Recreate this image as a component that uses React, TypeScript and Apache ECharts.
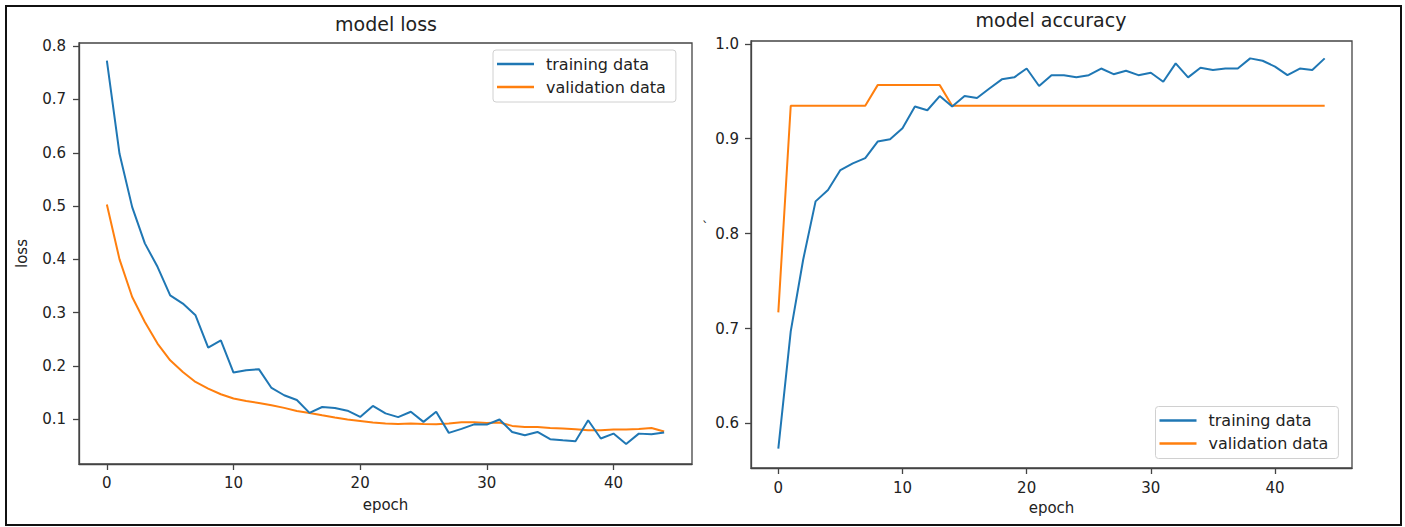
import React, { useEffect, useRef } from "react";
import * as echarts from "echarts";

const epochs: number[] = Array.from({ length: 45 }, (_, i) => i);

const lossTraining: number[] = [
  0.773, 0.598, 0.498, 0.43, 0.386, 0.3325, 0.317, 0.295, 0.2345, 0.248,
  0.1875, 0.192, 0.194, 0.1587, 0.145, 0.136, 0.112, 0.123, 0.121, 0.116,
  0.1044, 0.125, 0.111, 0.104, 0.114, 0.095, 0.114, 0.0744, 0.082, 0.0904,
  0.09, 0.0995, 0.0762, 0.07, 0.0762, 0.0625, 0.0606, 0.0588, 0.098, 0.0638,
  0.0731, 0.0537, 0.073, 0.072, 0.075,
];

const lossValidation: number[] = [
  0.503, 0.4, 0.3294, 0.2825, 0.2419, 0.2106, 0.1887, 0.17, 0.1576, 0.1469,
  0.1388, 0.1344, 0.1306, 0.1263, 0.1213, 0.1156, 0.1119, 0.1075, 0.1032, 0.0994,
  0.0969, 0.0938, 0.092, 0.0912, 0.092, 0.0912, 0.0906, 0.092, 0.0944, 0.0944,
  0.0931, 0.0938, 0.0875, 0.0856, 0.0856, 0.0837, 0.0825, 0.0813, 0.0794, 0.0794,
  0.0806, 0.0806, 0.0819, 0.0837, 0.077,
];

const accTraining: number[] = [
  0.5735, 0.697, 0.7725, 0.834, 0.846, 0.867, 0.874, 0.8795, 0.897, 0.8995,
  0.911, 0.934, 0.93, 0.945, 0.934, 0.945, 0.943, 0.953, 0.9626, 0.9647,
  0.974, 0.9556, 0.967, 0.967, 0.9647, 0.967, 0.974, 0.968, 0.9717, 0.967,
  0.9696, 0.96, 0.9794, 0.9647, 0.9749, 0.9724, 0.974, 0.974, 0.9847, 0.9822,
  0.976, 0.967, 0.974, 0.9724, 0.9847,
];

const accValidation: number[] = [
  0.717, 0.9348, 0.9348, 0.9348, 0.9348, 0.9348, 0.9348, 0.9348, 0.9565, 0.9565,
  0.9565, 0.9565, 0.9565, 0.9565, 0.9348, 0.9348, 0.9348, 0.9348, 0.9348, 0.9348,
  0.9348, 0.9348, 0.9348, 0.9348, 0.9348, 0.9348, 0.9348, 0.9348, 0.9348, 0.9348,
  0.9348, 0.9348, 0.9348, 0.9348, 0.9348, 0.9348, 0.9348, 0.9348, 0.9348, 0.9348,
  0.9348, 0.9348, 0.9348, 0.9348, 0.9348,
];

const xTicks: number[] = [0, 10, 20, 30, 40];
const lossTicks: number[] = [0.1, 0.2, 0.3, 0.4, 0.5, 0.6, 0.7, 0.8];
const accTicks: number[] = [0.6, 0.7, 0.8, 0.9, 1.0];

const titles: string[] = ["model loss", "model accuracy"];
const seriesNames: string[] = ["training data", "validation data"];
const xName = "epoch";
const lossName = "loss";

const BLUE = "#1f77b4";
const ORANGE = "#ff7f0e";
const TEXT = "#222";
const SPINE = "#444";
const FONT = "DejaVu Sans";

const pairs = (ys: number[]) => epochs.map((e, i) => [e, ys[i]]);

export default function App() {
  const ref = useRef<HTMLDivElement>(null);

  useEffect(() => {
    if (!ref.current) return;
    const chart = echarts.init(ref.current, undefined, { renderer: "svg" });

    const xAxisBase = (gridIndex: number, labelMargin: number, nameGap: number) => ({
      type: "value",
      gridIndex,
      min: -2.2,
      max: 46.2,
      splitLine: { show: false },
      axisLine: { show: true, onZero: false, lineStyle: { color: SPINE, width: 1.3 } },
      axisTick: {
        show: true,
        customValues: xTicks,
        length: 6,
        lineStyle: { color: SPINE, width: 1.3 },
      },
      axisLabel: {
        customValues: xTicks,
        fontSize: 15,
        color: TEXT,
        fontFamily: FONT,
        margin: labelMargin,
        formatter: (v: number) => String(v),
      },
      name: xName,
      nameLocation: "middle",
      nameGap,
      nameTextStyle: { fontSize: 15, color: TEXT, fontFamily: FONT },
    });

    const yAxisBase = (
      gridIndex: number,
      min: number,
      max: number,
      ticks: number[],
      labelMargin: number
    ) => ({
      type: "value",
      gridIndex,
      min,
      max,
      splitLine: { show: false },
      axisLine: { show: true, onZero: false, lineStyle: { color: SPINE, width: 1.3 } },
      axisTick: {
        show: true,
        customValues: ticks,
        length: 6,
        lineStyle: { color: SPINE, width: 1.3 },
      },
      axisLabel: {
        customValues: ticks,
        fontSize: 15,
        color: TEXT,
        fontFamily: FONT,
        margin: labelMargin,
        formatter: (v: number) => v.toFixed(1),
      },
    });

    const legendBase = (left: number, top: number) => ({
      orient: "vertical",
      left,
      top,
      data: seriesNames,
      icon: "rect",
      itemWidth: 37,
      itemHeight: 2.5,
      itemGap: 7,
      padding: [6, 10, 7, 4],
      borderColor: "#d0d0d0",
      borderWidth: 1,
      borderRadius: 3,
      backgroundColor: "rgba(255,255,255,0.85)",
      selectedMode: false,
      textStyle: {
        fontSize: 16,
        color: TEXT,
        fontFamily: FONT,
        lineHeight: 16,
        padding: [0, 0, 0, 7],
      },
    });

    const option: any = {
      animation: false,
      backgroundColor: "#ffffff",
      textStyle: { fontFamily: FONT },
      title: [
        {
          text: titles[0],
          left: 386,
          top: 14,
          textAlign: "center",
          padding: 0,
          textStyle: { fontSize: 19, fontWeight: "normal", color: TEXT, fontFamily: FONT },
        },
        {
          text: titles[1],
          left: 1051,
          top: 10,
          textAlign: "center",
          padding: 0,
          textStyle: { fontSize: 19, fontWeight: "normal", color: TEXT, fontFamily: FONT },
        },
      ],
      legend: [legendBase(493, 50), legendBase(1155.5, 406.5)],
      grid: [
        {
          left: 79,
          top: 43,
          width: 613,
          height: 421,
          show: true,
          borderColor: SPINE,
          borderWidth: 1.3,
          backgroundColor: "transparent",
        },
        {
          left: 751,
          top: 41,
          width: 601,
          height: 427,
          show: true,
          borderColor: SPINE,
          borderWidth: 1.3,
          backgroundColor: "transparent",
        },
      ],
      xAxis: [xAxisBase(0, 11, 33), xAxisBase(1, 12, 32)],
      yAxis: [
        {
          ...yAxisBase(0, 0.016, 0.806, lossTicks, 13),
          name: lossName,
          nameLocation: "middle",
          nameGap: 50,
          nameTextStyle: { fontSize: 15, color: TEXT, fontFamily: FONT },
        },
        yAxisBase(1, 0.553, 1.003, accTicks, 12),
      ],
      series: [
        {
          name: seriesNames[0],
          type: "line",
          xAxisIndex: 0,
          yAxisIndex: 0,
          data: pairs(lossTraining),
          showSymbol: false,
          lineStyle: { color: BLUE, width: 2 },
          itemStyle: { color: BLUE },
          z: 3,
        },
        {
          name: seriesNames[1],
          type: "line",
          xAxisIndex: 0,
          yAxisIndex: 0,
          data: pairs(lossValidation),
          showSymbol: false,
          lineStyle: { color: ORANGE, width: 2 },
          itemStyle: { color: ORANGE },
          z: 2,
        },
        {
          name: seriesNames[0],
          type: "line",
          xAxisIndex: 1,
          yAxisIndex: 1,
          data: pairs(accTraining),
          showSymbol: false,
          lineStyle: { color: BLUE, width: 2 },
          itemStyle: { color: BLUE },
          z: 3,
        },
        {
          name: seriesNames[1],
          type: "line",
          xAxisIndex: 1,
          yAxisIndex: 1,
          data: pairs(accValidation),
          showSymbol: false,
          lineStyle: { color: ORANGE, width: 2 },
          itemStyle: { color: ORANGE },
          z: 2,
        },
      ],
      graphic: [
        {
          type: "rect",
          shape: { x: 6, y: 6, width: 1395, height: 519 },
          style: { fill: "none", stroke: "#111", lineWidth: 2 },
          silent: true,
          z: 100,
        },
        {
          type: "text",
          x: 702,
          y: 220,
          style: { text: "`", fontSize: 13, fill: TEXT, fontFamily: FONT },
          silent: true,
        },
      ],
    };

    chart.setOption(option);
    return () => chart.dispose();
  }, []);

  return (
    <div
      ref={ref}
      style={{ position: "absolute", left: 0, top: 0, width: 1405, height: 527 }}
    />
  );
}
